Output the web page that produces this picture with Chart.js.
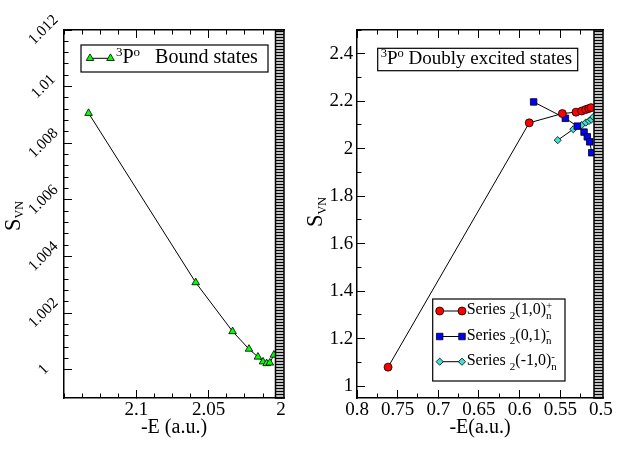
<!DOCTYPE html>
<html lang="en">
<head>
    <meta charset="UTF-8">
    <title>3Po bound and doubly excited states - SVN</title>
    <script src="https://cdn.jsdelivr.net/npm/chart.js"></script>
    <style>
        body { margin: 0; background: #fff; }
        #leftPanel { position: absolute; left: 0; top: 0; }
        #rightPanel { position: absolute; left: 300px; top: 0; }
    </style>
</head>
<body>
    <canvas id="leftPanel" width="311" height="451"></canvas>
    <canvas id="rightPanel" width="323" height="451"></canvas>

    <script>
        // Left panel: 3Po bound states, -E (a.u.) vs S_VN
        const boundE = [2.1330, 2.0590, 2.0335, 2.0222, 2.0160, 2.0125, 2.0100, 2.0078, 2.0050];
        const boundS = [1.00906, 1.00308, 1.00135, 1.00073, 1.00045, 1.00028, 1.00022, 1.00024, 1.00052];

        // Right panel: 3Po doubly excited states, three series
        const plusE = [0.7618, 0.5882, 0.5475, 0.5307, 0.5236, 0.5187, 0.5150, 0.5122];
        const plusS = [1.080, 2.109, 2.148, 2.154, 2.159, 2.165, 2.169, 2.173];
        const minus01E = [0.5828, 0.5438, 0.5291, 0.5208, 0.5168, 0.5138, 0.5113];
        const minus01S = [2.197, 2.128, 2.095, 2.070, 2.050, 2.029, 1.983];
        const minus10E = [0.5532, 0.5340, 0.5236, 0.5187, 0.5147, 0.5118, 0.5094];
        const minus10S = [2.036, 2.082, 2.100, 2.110, 2.117, 2.123, 2.134];

        // Labels (_{..} subscript, ^{..} superscript)
        const boundLabel = '^{3}P^{o}   Bound states';
        const doublyTitle = '^{3}P^{o} Doubly excited states';
        const seriesLabels = ['Series _{2}(1,0)_{n}^{+}', 'Series _{2}(0,1)_{n}^{-}', 'Series _{2}(-1,0)_{n}^{-}'];
        const yTitle = 'S_{VN}';

        // Tick values
        const leftXTicks = [2.1, 2.05, 2];
        const leftYTicks = [1, 1.002, 1.004, 1.006, 1.008, 1.01, 1.012];
        const rightXTicks = [0.8, 0.75, 0.7, 0.65, 0.6, 0.55, 0.5];
        const rightYTicks = [1, 1.2, 1.4, 1.6, 1.8, 2, 2.2, 2.4];

        function tickRange(from, to, step) {
            const out = [];
            const n = Math.round((to - from) / step);
            for (let i = 0; i <= n; i++) out.push(+(from + i * step).toFixed(6));
            return out;
        }
        const leftXMinor = tickRange(2, 2.15, 0.0125);
        const leftYMinor = tickRange(1, 1.012, 0.0004);
        const rightXMinor = tickRange(0.5, 0.8, 0.025);
        const rightYMinor = tickRange(1, 2.5, 0.1);

        const SERIF = "'Liberation Serif', 'Times New Roman', serif";
        Chart.defaults.font.family = SERIF;
        Chart.defaults.color = '#000';

        function points(xs, ys) {
            return xs.map((x, i) => ({ x, y: ys[i] }));
        }

        // split "a_{b}^{c}" into normal / sub / sup pieces
        function parseRich(str) {
            const parts = [];
            const re = /([_^])\{([^}]*)\}/g;
            let last = 0, m;
            while ((m = re.exec(str))) {
                if (m.index > last) parts.push({ t: str.slice(last, m.index), k: 'n' });
                parts.push({ t: m[2], k: m[1] === '_' ? 'sub' : 'sup' });
                last = re.lastIndex;
            }
            if (last < str.length) parts.push({ t: str.slice(last), k: 'n' });
            return parts;
        }

        function drawRich(ctx, str, x, y, f, dry) {
            const parts = parseRich(str);
            const x0 = x;
            let stackW = 0;
            ctx.textAlign = 'left';
            ctx.textBaseline = 'alphabetic';
            parts.forEach((p, i) => {
                ctx.font = (p.k === 'n' ? f.size : f.small) + 'px ' + SERIF;
                const dy = p.k === 'sub' ? f.subDy : p.k === 'sup' ? f.supDy : 0;
                if (!dry) ctx.fillText(p.t, x, y + dy);
                const w = ctx.measureText(p.t).width;
                const next = parts[i + 1];
                if (p.k === 'sub' && next && next.k === 'sup') {
                    stackW = w;   // sub and sup stacked on top of each other
                } else {
                    x += Math.max(w, stackW);
                    stackW = 0;
                }
            });
            return x - x0;
        }

        // hatched band at the series limit on the right edge
        const thresholdBand = {
            id: 'thresholdBand',
            afterDatasetsDraw(chart, args, opts) {
                const { ctx, chartArea: a } = chart;
                const x0 = a.right - opts.width;
                ctx.save();
                ctx.fillStyle = '#fff';
                ctx.fillRect(x0, a.top, opts.width, a.bottom - a.top);
                ctx.strokeStyle = '#000';
                ctx.lineWidth = opts.lineWidth;
                ctx.beginPath();
                for (let y = a.top + opts.gap / 2; y < a.bottom; y += opts.gap) {
                    ctx.moveTo(x0, y);
                    ctx.lineTo(a.right, y);
                }
                ctx.stroke();
                ctx.lineWidth = 1.5;
                ctx.strokeRect(x0, a.top, opts.width, a.bottom - a.top);
                ctx.restore();
            }
        };

        // framed legends placed inside the plot
        const boxLegend = {
            id: 'boxLegend',
            afterDraw(chart, args, opts) {
                const ctx = chart.ctx;
                opts.boxes.forEach(b => {
                    ctx.save();
                    ctx.fillStyle = '#fff';
                    ctx.fillRect(b.left, b.top, b.width, b.height);
                    ctx.strokeStyle = '#000';
                    ctx.lineWidth = 1.2;
                    ctx.strokeRect(b.left, b.top, b.width, b.height);
                    b.rows.forEach(r => {
                        const ds = r.dataset !== undefined ? chart.data.datasets[r.dataset] : null;
                        if (ds) {
                            ctx.strokeStyle = ds.borderColor;
                            ctx.lineWidth = ds.borderWidth;
                            ctx.beginPath();
                            ctx.moveTo(b.markerX[0], r.y);
                            ctx.lineTo(b.markerX[1], r.y);
                            ctx.stroke();
                            b.markerX.forEach(mx => {
                                ctx.fillStyle = ds.pointBackgroundColor;
                                ctx.strokeStyle = ds.pointBorderColor;
                                ctx.lineWidth = ds.pointBorderWidth;
                                Chart.helpers.drawPoint(ctx, {
                                    pointStyle: ds.pointStyle, radius: ds.pointRadius,
                                    rotation: 0, borderWidth: ds.pointBorderWidth
                                }, mx, r.y);
                            });
                        }
                        ctx.fillStyle = '#000';
                        drawRich(ctx, r.text || ds.label, b.textX, r.y + b.baseline, b.font);
                    });
                    ctx.restore();
                });
            }
        };

        // rotated y title with subscript
        const richYTitle = {
            id: 'richYTitle',
            afterDraw(chart, args, opts) {
                const ctx = chart.ctx;
                ctx.save();
                const w = drawRich(ctx, opts.text, 0, 0, opts.font, true);
                ctx.translate(opts.x, opts.y);
                ctx.rotate(-Math.PI / 2);
                ctx.fillStyle = '#000';
                drawRich(ctx, opts.text, -w / 2, 0, opts.font);
                ctx.restore();
            }
        };

        // axis that only draws inward tick marks
        function tickAxis(position, min, max, values, length, extra) {
            const horizontal = position === 'top' || position === 'bottom';
            return Object.assign({
                type: 'linear', position, min, max,
                reverse: horizontal,
                weight: 0,
                afterBuildTicks: s => { s.ticks = values.map(v => ({ value: v })); },
                afterFit: s => { if (horizontal) s.height = 0; else s.width = 0; },
                grid: { drawOnChartArea: false, tickLength: -length, color: '#000', lineWidth: 1 },
                border: { display: false },
                ticks: { display: false }
            }, extra);
        }

        const frame = { display: true, color: '#000', width: 1.5 };
        const plain = v => String(+v.toFixed(4));

        function series(label, data, style, color, radius) {
            return {
                label, data, showLine: true,
                borderColor: '#000', borderWidth: 1,
                pointStyle: style, pointRadius: radius, pointHoverRadius: radius,
                pointBackgroundColor: color, backgroundColor: color,
                pointBorderColor: '#000', pointBorderWidth: 0.8
            };
        }

        const common = {
            responsive: false,
            maintainAspectRatio: false,
            animation: false,
            events: []
        };

        new Chart(document.getElementById('leftPanel'), {
            type: 'scatter',
            data: {
                datasets: [series(boundLabel, points(boundE, boundS), 'triangle', '#00ff00', 4.4)]
            },
            options: Object.assign({}, common, {
                layout: { padding: { left: 0, right: 27, top: 30, bottom: 0 } },
                scales: {
                    x: tickAxis('bottom', 1.998, 2.15, leftXTicks, 8, {
                        weight: 1,
                        afterFit: s => { s.height = 53; },
                        border: frame,
                        ticks: { font: { size: 19 }, color: '#000', padding: 9, autoSkip: false, maxRotation: 0, callback: plain },
                        title: { display: true, text: '-E (a.u.)', font: { size: 20 }, color: '#000', padding: { top: 0, bottom: 11 } }
                    }),
                    xMinor: tickAxis('bottom', 1.998, 2.15, leftXMinor, 4.5),
                    xTop: tickAxis('top', 1.998, 2.15, leftXTicks, 8, { border: frame }),
                    xTopMinor: tickAxis('top', 1.998, 2.15, leftXMinor, 4.5),
                    y: tickAxis('left', 0.999, 1.012, leftYTicks, 8, {
                        weight: 1,
                        afterFit: s => { s.width = 64; },
                        border: frame,
                        ticks: { font: { size: 15.5 }, color: '#000', padding: 11, autoSkip: false, callback: plain,
                                 minRotation: 45, maxRotation: 45, crossAlign: 'center' }
                    }),
                    yMinor: tickAxis('left', 0.999, 1.012, leftYMinor, 4.5)
                },
                plugins: {
                    legend: { display: false },
                    tooltip: { enabled: false },
                    thresholdBand: { width: 8.5, gap: 3, lineWidth: 1.6 },
                    boxLegend: {
                        boxes: [{
                            left: 81, top: 45, width: 187, height: 27,
                            markerX: [90, 110.5], textX: 116, baseline: 5,
                            font: { size: 20, small: 13, subDy: 4, supDy: -7.5 },
                            rows: [{ dataset: 0, y: 58.3 }]
                        }]
                    },
                    richYTitle: { text: yTitle, x: 20, y: 216, font: { size: 22.5, small: 12, subDy: 3.4, supDy: -8 } }
                }
            }),
            plugins: [thresholdBand, boxLegend, richYTitle]
        });

        new Chart(document.getElementById('rightPanel'), {
            type: 'scatter',
            data: {
                datasets: [
                    series(seriesLabels[0], points(plusE, plusS), 'circle', '#ff0000', 4),
                    series(seriesLabels[1], points(minus01E, minus01S), 'rect', '#0000ff', 4.6),
                    series(seriesLabels[2], points(minus10E, minus10S), 'rectRot', '#40e0d0', 3.6)
                ]
            },
            options: Object.assign({}, common, {
                layout: { padding: { left: 0, right: 20, top: 30, bottom: 0 } },
                scales: {
                    x: tickAxis('bottom', 0.4975, 0.8, rightXTicks, 8, {
                        weight: 1,
                        afterFit: s => { s.height = 53; },
                        border: frame,
                        ticks: { font: { size: 19 }, color: '#000', padding: 9, autoSkip: false, maxRotation: 0, callback: plain },
                        title: { display: true, text: '-E(a.u.)', font: { size: 20 }, color: '#000', padding: { top: 0, bottom: 11 } }
                    }),
                    xMinor: tickAxis('bottom', 0.4975, 0.8, rightXMinor, 4.5),
                    xTop: tickAxis('top', 0.4975, 0.8, rightXTicks, 8, { border: frame }),
                    xTopMinor: tickAxis('top', 0.4975, 0.8, rightXMinor, 4.5),
                    y: tickAxis('left', 0.95, 2.5, rightYTicks, 8, {
                        weight: 1,
                        afterFit: s => { s.width = 57; },
                        border: frame,
                        ticks: { font: { size: 19 }, color: '#000', padding: 11.7, autoSkip: false, callback: plain }
                    }),
                    yMinor: tickAxis('left', 0.95, 2.5, rightYMinor, 4.5)
                },
                plugins: {
                    legend: { display: false },
                    tooltip: { enabled: false },
                    thresholdBand: { width: 9, gap: 3, lineWidth: 1.6 },
                    boxLegend: {
                        boxes: [{
                            left: 77.7, top: 48.3, width: 200, height: 22.4,
                            markerX: [], textX: 80.7, baseline: 5,
                            font: { size: 19, small: 12.5, subDy: 4, supDy: -7 },
                            rows: [{ text: doublyTitle, y: 59.3 }]
                        }, {
                            left: 132.7, top: 299, width: 132.3, height: 82,
                            markerX: [139.7, 162], textX: 166.7, baseline: 3.3,
                            font: { size: 16, small: 11, subDy: 4.5, supDy: -5.5 },
                            rows: [{ dataset: 0, y: 311 }, { dataset: 1, y: 336.5 }, { dataset: 2, y: 361.7 }]
                        }]
                    },
                    richYTitle: { text: yTitle, x: 22.3, y: 212, font: { size: 22.5, small: 12, subDy: 3.4, supDy: -8 } }
                }
            }),
            plugins: [thresholdBand, boxLegend, richYTitle]
        });
    </script>
</body>
</html>
